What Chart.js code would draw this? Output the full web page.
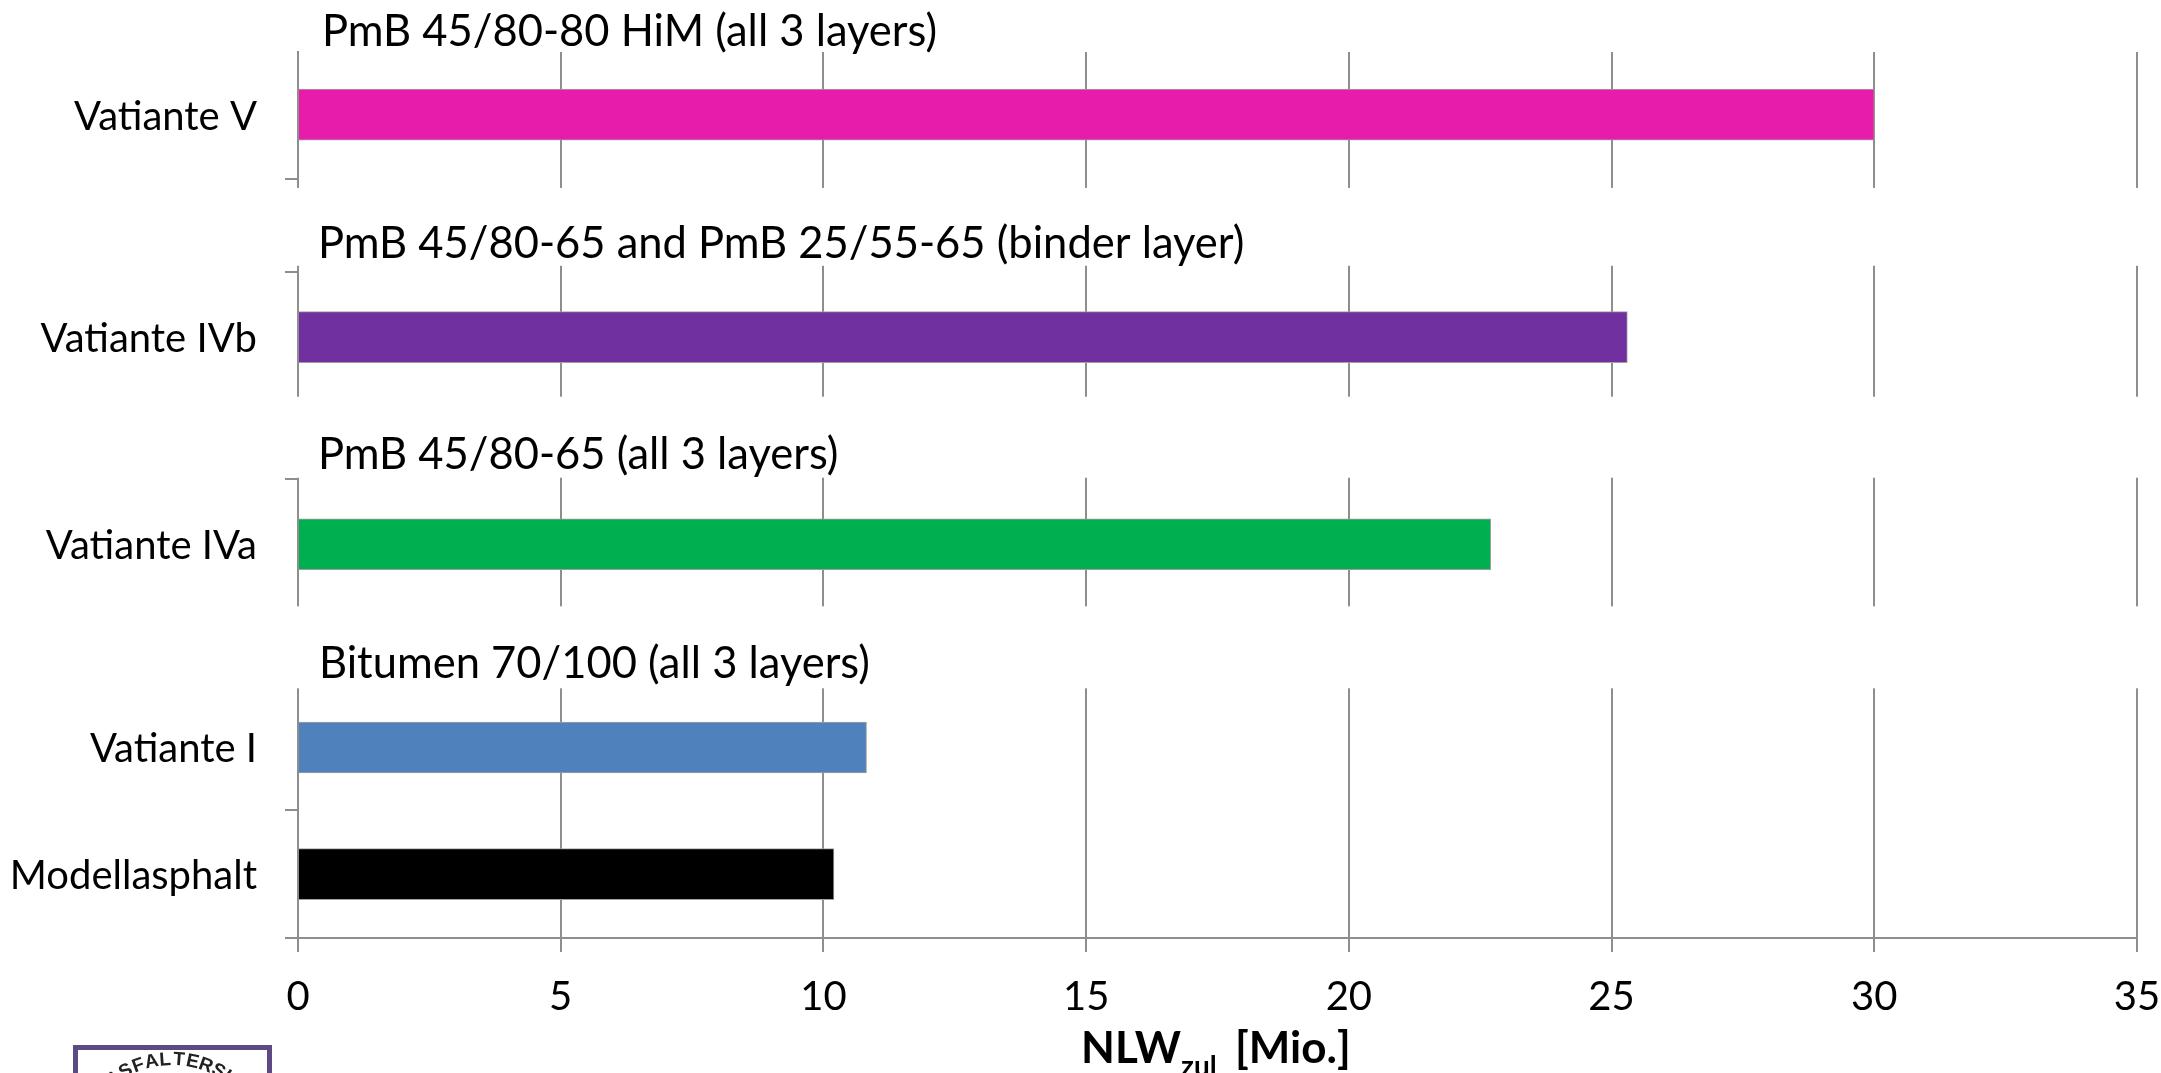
<!DOCTYPE html>
<html lang="de">
<head>
  <meta charset="UTF-8">
  <title>NLW zul</title>
  <script src="https://cdn.jsdelivr.net/npm/chart.js"></script>
  <style>
    body { margin: 0; background: #ffffff; }
    canvas { display: block; }
  </style>
</head>
<body>
  <canvas id="nlwChart" width="2161" height="1073"></canvas>

  <script>
    // bottom to top, same order as the rows below
    const categories = ['Modellasphalt', 'Vatiante I', 'Vatiante IVa', 'Vatiante IVb', 'Vatiante V'];
    const nlwValues = [10.2, 10.82, 22.7, 25.3, 30.0];
    const barColors = ['#000000', '#4f81bd', '#00b050', '#7030a0', '#e81cab'];
    const xTicks = [0, 5, 10, 15, 20, 25, 30, 35];

    // the source stretches its groups unevenly, so rows sit on a linear axis
    const rowCentres = [0.5, 1.49, 3.08, 4.70, 6.44];
    const rowEdges = [0, 1, 3.59, 5.21, 5.94];

    const groupTitles = ['Bitumen 70/100 (all 3 layers)', 'PmB 45/80-65 (all 3 layers)', 'PmB 45/80-65 and PmB 25/55-65 (binder layer)', 'PmB 45/80-80 HiM (all 3 layers)'];
    const titleRows = [2.03, 3.672, 5.32, 6.977];
    const titleX = [0.4, 0.38, 0.38, 0.457];
    // white text boxes that interrupt the gridlines
    const gapRows = [[1.953, 2.594], [3.60, 4.234], [5.258, 5.867]];

    const overlay = {
      id: 'overlay',
      beforeDatasetsDraw(chart) {
        const { ctx, scales: { x, y } } = chart;
        ctx.save();
        ctx.fillStyle = '#ffffff';
        gapRows.forEach(g => {
          const top = y.getPixelForValue(g[1]);
          const bottom = y.getPixelForValue(g[0]);
          ctx.fillRect(x.left - 20, top, x.right - x.left + 30, bottom - top);
        });
        ctx.restore();
      },
      afterDraw(chart) {
        const { ctx, scales: { x, y } } = chart;
        ctx.save();
        ctx.fillStyle = '#000000';
        ctx.textBaseline = 'alphabetic';
        ctx.textAlign = 'left';
        ctx.font = '43.5px Lato';
        groupTitles.forEach((t, i) => {
          ctx.fillText(t, x.getPixelForValue(titleX[i]), y.getPixelForValue(titleRows[i]));
        });

        // axis title with subscript
        ctx.font = 'bold 44px Lato';
        ctx.fillText('NLW', 1081, 1063);
        let w = ctx.measureText('NLW').width;
        ctx.font = 'bold 28px Lato';
        ctx.fillText('zul', 1081 + w, 1076);
        ctx.font = 'bold 44px Lato';
        ctx.fillText('[Mio.]', 1235, 1063);

        // logo, cut off by the bottom of the picture
        ctx.strokeStyle = '#5d4a85';
        ctx.lineWidth = 5;
        ctx.strokeRect(75.5, 1047.5, 194, 60);
        ctx.fillStyle = '#222222';
        ctx.font = 'bold 19px "Liberation Sans"';
        ctx.textAlign = 'center';
        const logoText = 'ASFALTERSK';
        const cx = 172, cy = 1158, r = 93;
        for (let i = 0; i < logoText.length; i++) {
          const a = (i - 4.5) * 0.14;
          ctx.save();
          ctx.translate(cx + r * Math.sin(a), cy - r * Math.cos(a));
          ctx.rotate(a);
          ctx.fillText(logoText[i], 0, 0);
          ctx.restore();
        }
        ctx.restore();
      }
    };

    new Chart(document.getElementById('nlwChart'), {
      type: 'bar',
      data: {
        datasets: [{
          data: nlwValues.map((v, i) => ({ x: v, y: rowCentres[i] })),
          backgroundColor: barColors,
          borderColor: '#a0a0a0',
          borderWidth: 1,
          barThickness: 51
        }]
      },
      options: {
        indexAxis: 'y',
        responsive: false,
        animation: false,
        layout: { padding: { top: 51, right: 24, left: 0, bottom: 0 } },
        plugins: { legend: { display: false }, tooltip: { enabled: false }, title: { display: false } },
        scales: {
          x: {
            type: 'linear',
            min: 0,
            max: 35,
            afterBuildTicks: scale => { scale.ticks = xTicks.map(v => ({ value: v })); },
            afterFit: scale => {
              scale.height = 135;
              scale.paddingLeft = 0;
              scale.paddingRight = 0;
            },
            ticks: {
              font: { family: 'Lato', size: 40 },
              color: '#000000',
              maxRotation: 0,
              autoSkip: false,
              padding: 21
            },
            grid: { color: '#8e8e8e', lineWidth: 2, tickLength: 14 },
            border: { color: '#8e8e8e', width: 2 }
          },
          y: {
            type: 'linear',
            min: 0,
            max: 6.93,
            offset: false,
            afterBuildTicks: scale => {
              scale.ticks = rowEdges.concat(rowCentres).sort((a, b) => a - b).map(v => ({ value: v }));
            },
            afterFit: scale => { scale.width = 298; },
            ticks: {
              font: { family: 'Lato', size: 40 },
              color: '#000000',
              autoSkip: false,
              padding: 28,
              labelOffset: 2,
              callback: value => {
                const i = rowCentres.indexOf(value);
                return i >= 0 ? categories[i] : '';
              }
            },
            grid: {
              offset: false,
              drawOnChartArea: false,
              tickLength: 13,
              lineWidth: 2,
              tickColor: c => c.tick && rowEdges.includes(c.tick.value) ? '#8e8e8e' : 'rgba(0,0,0,0)'
            },
            border: { color: '#8e8e8e', width: 2 }
          }
        }
      },
      plugins: [overlay]
    });
  </script>
</body>
</html>
